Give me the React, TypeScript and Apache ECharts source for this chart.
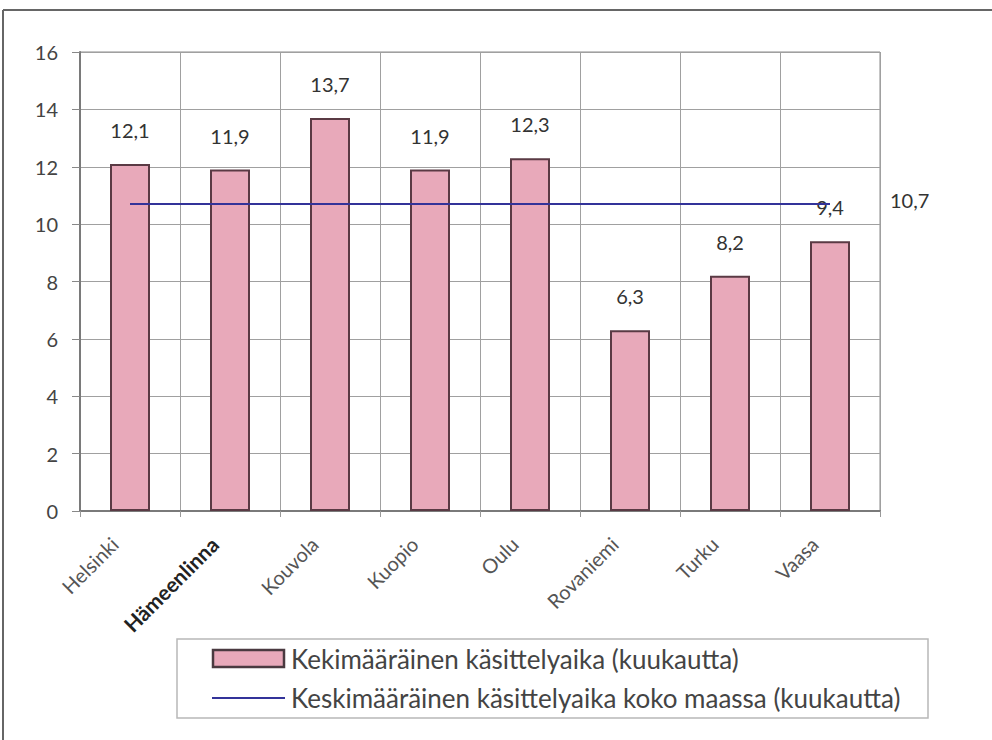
import React, { useEffect, useRef } from "react";
import * as echarts from "echarts";

const categories = ["Helsinki", "Hämeenlinna", "Kouvola", "Kuopio", "Oulu", "Rovaniemi", "Turku", "Vaasa"];
const barValues = [12.1, 11.9, 13.7, 11.9, 12.3, 6.3, 8.2, 9.4];
const nationalAverage = 10.7;
const lineValues = categories.map(() => nationalAverage);
const yTicks = { min: 0, max: 16, interval: 2 };
const barName = "Kekimääräinen käsittelyaika (kuukautta)";
const lineName = "Keskimääräinen käsittelyaika koko maassa (kuukautta)";

const fmt = (v: number) => String(v).replace(".", ",");
const FONT = "Lato, 'Open Sans', sans-serif";
const BAR_FILL = "#e8a9ba";
const BAR_STROKE = "#5a3a44";
const LINE_COLOR = "#333399";

export default function App() {
  const ref = useRef<HTMLDivElement>(null);
  useEffect(() => {
    if (!ref.current) return;
    const chart = echarts.init(ref.current, null, { renderer: "svg" });
    chart.setOption({
      animation: false,
      backgroundColor: "#ffffff",
      textStyle: { fontFamily: FONT },
      grid: { left: 80, top: 52, right: 112, bottom: 229, show: true, borderColor: "#8a8a8a", borderWidth: 1 },
      xAxis: {
        type: "category",
        data: categories,
        axisLine: { lineStyle: { color: "#7a7a7a", width: 2 } },
        axisTick: { show: true, length: 6, lineStyle: { color: "#999" } },
        splitLine: { show: true, lineStyle: { color: "#a0a0a0", width: 1 } },
        axisLabel: {
          rotate: 45,
          margin: 14,
          fontSize: 20,
          color: "#555",
          fontFamily: FONT,
          padding: [0, 22, 0, 0],
          formatter: (v: string) => (v === "Hämeenlinna" ? "{b|" + v + "}" : v),
          rich: { b: { fontSize: 21, fontWeight: "bold", color: "#222", fontFamily: FONT } },
        },
      },
      yAxis: {
        type: "value",
        min: yTicks.min,
        max: yTicks.max,
        interval: yTicks.interval,
        axisLine: { show: true, lineStyle: { color: "#7a7a7a", width: 2 } },
        axisTick: { show: true, length: 8, lineStyle: { color: "#888" } },
        splitLine: { show: true, lineStyle: { color: "#a0a0a0", width: 1 } },
        axisLabel: { fontSize: 20, color: "#444", margin: 22, fontFamily: FONT },
      },
      graphic: [
        { type: "line", shape: { x1: 3, y1: 10, x2: 992, y2: 10 }, style: { stroke: "#666", lineWidth: 2 } },
        { type: "line", shape: { x1: 3, y1: 10, x2: 3, y2: 740 }, style: { stroke: "#666", lineWidth: 2 } },
        { type: "rect", shape: { x: 177, y: 639, width: 751, height: 79 }, style: { fill: "none", stroke: "#b8b8b8", lineWidth: 1.5 } },
        { type: "rect", shape: { x: 213, y: 650, width: 71, height: 17 }, style: { fill: BAR_FILL, stroke: "#4a3a40", lineWidth: 2.5 } },
        { type: "line", shape: { x1: 212, y1: 698, x2: 285, y2: 698 }, style: { stroke: LINE_COLOR, lineWidth: 2 } },
        { type: "text", x: 291, y: 659, style: { text: barName, fontSize: 26, fill: "#444", fontFamily: FONT, verticalAlign: "middle" } },
        { type: "text", x: 291, y: 698, style: { text: lineName, fontSize: 26, fill: "#444", fontFamily: FONT, verticalAlign: "middle" } },
      ],
      series: [
        {
          name: barName,
          type: "bar",
          data: barValues,
          barWidth: "40%",
          itemStyle: { color: BAR_FILL, borderColor: BAR_STROKE, borderWidth: 2 },
          label: {
            show: true,
            position: "top",
            distance: 24,
            fontSize: 20,
            color: "#333",
            fontFamily: FONT,
            formatter: (p: any) => fmt(p.value),
          },
        },
        {
          name: lineName,
          type: "line",
          data: lineValues,
          symbol: "none",
          lineStyle: { color: LINE_COLOR, width: 2 },
          itemStyle: { color: LINE_COLOR },
          endLabel: {
            show: true,
            distance: 60,
            offset: [0, -4],
            fontSize: 20,
            color: "#333",
            fontFamily: FONT,
            formatter: (p: any) => fmt(p.value),
          },
          z: 3,
        },
      ],
    });
    return () => chart.dispose();
  }, []);
  return <div ref={ref} style={{ position: "fixed", left: 0, top: 0, width: 992, height: 740 }} />;
}
